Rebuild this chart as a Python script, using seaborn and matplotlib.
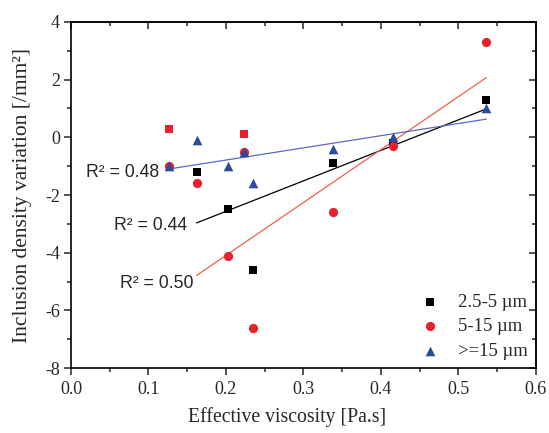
import numpy as np
import pandas as pd
import matplotlib
matplotlib.use("Agg")
import matplotlib.pyplot as plt
from matplotlib.ticker import MultipleLocator, FormatStrFormatter
import seaborn as sns

# Effective viscosity of each trial [Pa.s]
viscosity = [0.126, 0.162, 0.203, 0.223, 0.235, 0.338, 0.416, 0.536]

# Inclusion density variation [/mm^2] per size class
small = [0.3, -1.2, -2.5, 0.1, -4.6, -0.9, -0.2, 1.3]      # 2.5-5 um
medium = [-1.0, -1.6, -4.1, -0.5, -6.6, -2.6, -0.3, 3.3]   # 5-15 um
large = [-1.0, -0.1, -1.0, -0.5, -1.6, -0.4, 0.0, 1.0]     # >=15 um

# Points left out of the linear fits (masked)
masked_small = [True, False, False, True, False, False, False, False]
masked_medium = [True, False, False, True, False, False, False, False]
masked_large = [False] * 8

labels = ["2.5-5 \u00b5m", "5-15 \u00b5m", ">=15 \u00b5m"]
r2_labels = ["R\u00b2 = 0.44", "R\u00b2 = 0.50", "R\u00b2 = 0.48"]

sns.set_theme(style="ticks")
plt.rcParams["font.family"] = ["Liberation Serif", "DejaVu Serif"]

FS = 13
BLACK = "#000000"
RED = "#e8202a"
BLUE = "#2a4c9c"

fig = plt.figure(figsize=(5.49, 4.33), dpi=100)
ax = fig.add_axes([0.1293, 0.1501, 0.9763 - 0.1293, 0.9492 - 0.1501])

series = [
    (small, masked_small, "s", 26, BLACK, BLACK, r2_labels[0], (0.1505, -3.05)),
    (medium, masked_medium, "o", 44, RED, "#f0604f", r2_labels[1], (0.1578, -5.06)),
    (large, masked_large, "^", 48, BLUE, "#5f67c4", r2_labels[2], (0.1135, -1.22)),
]

handles = []
for (vals, mask, marker, size, color, line_color, r2, pos), lab in zip(series, labels):
    df = pd.DataFrame({"x": viscosity, "y": vals, "masked": mask})
    kept = df[~df["masked"]]
    dropped = df[df["masked"]]
    # linear fit over the unmasked points
    sns.regplot(data=kept, x="x", y="y", scatter=False, ci=None, truncate=True,
                ax=ax, line_kws={"color": line_color, "lw": 0.9, "zorder": 2})
    sc = ax.scatter(kept["x"], kept["y"], marker=marker, s=size, color=color,
                    linewidths=0, zorder=3, label=lab)
    if len(dropped):
        # masked points are shown in red
        ax.scatter(dropped["x"], dropped["y"], marker=marker, s=size, color=RED,
                   linewidths=0, zorder=3)
    handles.append(sc)
    ax.text(pos[0], pos[1], r2, ha="right", va="center", fontsize=12.7,
            family=["Liberation Sans", "DejaVu Sans"])

ax.set_xlim(0.0, 0.6)
ax.set_ylim(-8, 4)
ax.xaxis.set_major_locator(MultipleLocator(0.1))
ax.xaxis.set_minor_locator(MultipleLocator(0.05))
ax.yaxis.set_major_locator(MultipleLocator(2))
ax.yaxis.set_minor_locator(MultipleLocator(1))
ax.xaxis.set_major_formatter(FormatStrFormatter("%.1f"))
ax.yaxis.set_major_formatter(FormatStrFormatter("%d"))

ax.tick_params(which="major", direction="out", length=5, width=1.1, labelsize=FS)
ax.tick_params(which="minor", direction="out", length=3, width=1.1)
ax.tick_params(axis="x", which="major", pad=4.5)
ax.tick_params(axis="y", which="major", pad=3)
for side in ["top", "right", "left", "bottom"]:
    ax.spines[side].set_visible(True)
    ax.spines[side].set_linewidth(1.2)
    ax.spines[side].set_color("black")

# mirrored ticks on the top and right, pointing into the frame
top = ax.secondary_xaxis("top")
top.xaxis.set_major_locator(MultipleLocator(0.1))
top.xaxis.set_minor_locator(MultipleLocator(0.05))
top.tick_params(which="major", direction="in", length=5, width=1.1, labeltop=False)
top.tick_params(which="minor", direction="in", length=3, width=1.1)
top.spines["top"].set_linewidth(1.2)
right = ax.secondary_yaxis("right")
right.yaxis.set_major_locator(MultipleLocator(2))
right.yaxis.set_minor_locator(MultipleLocator(1))
right.tick_params(which="major", direction="in", length=5, width=1.1, labelright=False)
right.tick_params(which="minor", direction="in", length=3, width=1.1)
right.spines["right"].set_linewidth(1.2)

ax.set_xlabel("Effective viscosity [Pa.s]", fontsize=14.2)
ax.xaxis.set_label_coords(0.465, -0.143, transform=ax.transAxes)
ax.xaxis.label.set_verticalalignment("center")
ax.set_ylabel("Inclusion density variation [/mm\u00b2]", fontsize=15.5, labelpad=9)

leg = ax.legend(handles=handles, labels=labels, loc="lower right", frameon=False,
                fontsize=13.4, handletextpad=0.9, borderaxespad=0.05,
                labelspacing=0.4, handlelength=1.2)

fig.savefig("out.png", dpi=100)
